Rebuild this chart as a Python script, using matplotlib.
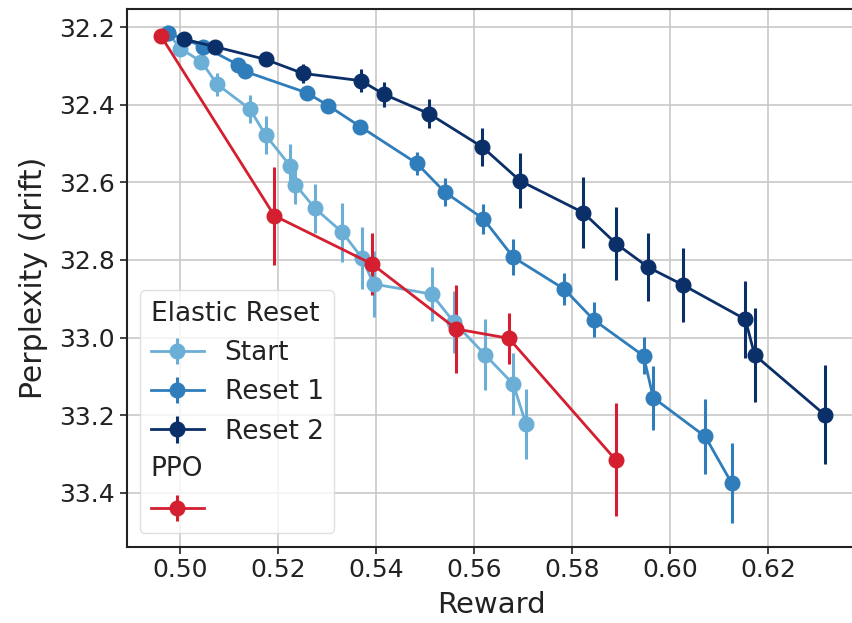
import matplotlib
matplotlib.use("Agg")
import matplotlib.pyplot as plt
from matplotlib.legend_handler import HandlerBase
from matplotlib.text import Text

# Elastic Reset: initial run
start_reward = [0.4975, 0.5000, 0.5043, 0.5075, 0.5142, 0.5174, 0.5224, 0.5235, 0.5275,
                0.5331, 0.5371, 0.5395, 0.5513, 0.5558, 0.5622, 0.5680, 0.5706]
start_ppl = [32.215, 32.255, 32.289, 32.347, 32.411, 32.478, 32.557, 32.606, 32.667,
             32.729, 32.795, 32.862, 32.888, 32.959, 33.044, 33.120, 33.223]
start_err = [0.010, 0.010, 0.015, 0.030, 0.036, 0.050, 0.055, 0.050, 0.063,
             0.075, 0.080, 0.084, 0.069, 0.080, 0.092, 0.080, 0.090]

# Elastic Reset: after first reset
reset1_reward = [0.4975, 0.5047, 0.5118, 0.5132, 0.5258, 0.5302, 0.5367, 0.5483, 0.5540,
                 0.5619, 0.5680, 0.5784, 0.5844, 0.5946, 0.5966, 0.6072, 0.6126]
reset1_ppl = [32.215, 32.250, 32.297, 32.314, 32.369, 32.402, 32.456, 32.551, 32.625,
              32.694, 32.793, 32.875, 32.954, 33.047, 33.155, 33.255, 33.375]
reset1_err = [0.010, 0.010, 0.010, 0.012, 0.012, 0.012, 0.015, 0.030, 0.035,
              0.038, 0.047, 0.042, 0.045, 0.048, 0.082, 0.097, 0.104]

# Elastic Reset: after second reset
reset2_reward = [0.5008, 0.5070, 0.5174, 0.5250, 0.5369, 0.5416, 0.5508, 0.5617, 0.5694,
                 0.5823, 0.5890, 0.5956, 0.6026, 0.6154, 0.6173, 0.6316]
reset2_ppl = [32.231, 32.250, 32.283, 32.319, 32.338, 32.373, 32.423, 32.509, 32.596,
              32.678, 32.758, 32.819, 32.864, 32.953, 33.045, 33.199]
reset2_err = [0.010, 0.012, 0.015, 0.024, 0.030, 0.033, 0.038, 0.049, 0.071,
              0.092, 0.094, 0.088, 0.095, 0.100, 0.122, 0.128]

# PPO baseline
ppo_reward = [0.4960, 0.5192, 0.5391, 0.5564, 0.5671, 0.5889]
ppo_ppl = [32.222, 32.686, 32.810, 32.978, 33.002, 33.315]
ppo_err = [0.010, 0.126, 0.080, 0.114, 0.065, 0.146]

x_ticks = [0.50, 0.52, 0.54, 0.56, 0.58, 0.60, 0.62]
y_ticks = [32.2, 32.4, 32.6, 32.8, 33.0, 33.2, 33.4]

FS = 19

plt.rcParams["font.family"] = ["DejaVu Sans"]

fig = plt.figure(figsize=(8.53, 6.23), dpi=100)
# the plot area runs off the right edge of the canvas
ax = fig.add_axes([0.1489, 0.1225, 0.8546, 0.8625])

style = dict(marker="o", markersize=10.5, linewidth=2.0, elinewidth=2.2, capsize=0)

h_start = ax.errorbar(start_reward, start_ppl, yerr=start_err, color="#6baed6", label="Start", **style)
h_r1 = ax.errorbar(reset1_reward, reset1_ppl, yerr=reset1_err, color="#2f7dba", label="Reset 1", **style)
h_r2 = ax.errorbar(reset2_reward, reset2_ppl, yerr=reset2_err, color="#0b2f68", label="Reset 2", **style)
h_ppo = ax.errorbar(ppo_reward, ppo_ppl, yerr=ppo_err, color="#d31f30", label="", **style)

ax.set_xlim(0.4891, 0.6380)
ax.set_ylim(33.539, 32.154)
ax.set_xticks(x_ticks)
ax.set_xticklabels([f"{v:.2f}" for v in x_ticks])
ax.set_yticks(y_ticks)
ax.set_yticklabels([f"{v:.1f}" for v in y_ticks])
ax.tick_params(labelsize=18, length=5, width=1.2, colors="#222222")
ax.grid(True, color="#c8c8c8", linewidth=1.2)
ax.set_axisbelow(True)
for s in ax.spines.values():
    s.set_color("#222222")
    s.set_linewidth(1.5)

ax.set_xlabel("Reward", fontsize=21, color="#222222", labelpad=6)
ax.set_ylabel("Perplexity (drift)", fontsize=21.5, color="#222222", labelpad=8)


class SectionHandler(HandlerBase):
    """Draws a section heading in place of a legend handle."""

    def create_artists(self, legend, orig_handle, xdescent, ydescent,
                       width, height, fontsize, trans):
        t = Text(-xdescent, height / 2 - ydescent, orig_handle.get_label(),
                 fontsize=fontsize, va="center", ha="left", color="#222222")
        t.set_transform(trans)
        return [t]


class Heading:
    def __init__(self, text):
        self._text = text

    def get_label(self):
        return self._text


ppo_heading = Heading("PPO")
handles = [h_start, h_r1, h_r2, ppo_heading, h_ppo]
labels = ["Start", "Reset 1", "Reset 2", "", ""]
leg = ax.legend(handles, labels, title="Elastic Reset", loc="lower left",
                fontsize=FS, title_fontsize=FS, alignment="left",
                handler_map={Heading: SectionHandler()},
                framealpha=0.8, edgecolor="#d8d8d8")
plt.setp(leg.get_texts(), color="#222222")
leg.get_title().set_color("#222222")

fig.savefig("out.png", dpi=100)
